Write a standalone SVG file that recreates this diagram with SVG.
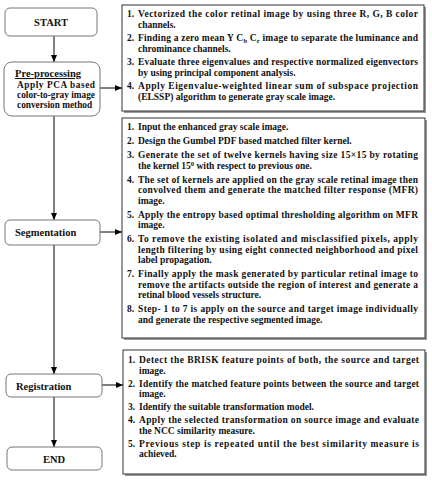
<svg xmlns="http://www.w3.org/2000/svg" width="432" height="480" viewBox="0 0 432 480">
<defs>
<marker id="ah" markerWidth="8" markerHeight="8" refX="7" refY="4" orient="auto" markerUnits="userSpaceOnUse">
<path d="M0,1 L7,4 L0,7 Z" fill="#000"/>
</marker>
</defs>
<style>
.node{fill:#fff;stroke:#777;stroke-width:1}
.box{fill:#fff;stroke:#333;stroke-width:1}
.sh{fill:#999}
.t{font-family:"Liberation Serif","Times New Roman",serif;font-weight:bold;fill:#111}
.lt{font-size:10.5px}
.bt{font-size:9.5px}
.pt{font-size:9.3px}
.c{stroke:#000;stroke-width:1;fill:none}
</style>
<rect width="432" height="480" fill="#fff"/>
<g id="connectors">
<line class="c" x1="54" y1="36" x2="54" y2="62" marker-end="url(#ah)"/>
<line class="c" x1="100" y1="88" x2="122" y2="88" marker-end="url(#ah)"/>
<line class="c" x1="54" y1="116" x2="54" y2="220" marker-end="url(#ah)"/>
<line class="c" x1="100" y1="232" x2="122" y2="232" marker-end="url(#ah)"/>
<line class="c" x1="54" y1="245" x2="54" y2="374" marker-end="url(#ah)"/>
<line class="c" x1="102" y1="385" x2="123" y2="385" marker-end="url(#ah)"/>
<line class="c" x1="54" y1="397" x2="54" y2="447" marker-end="url(#ah)"/>
</g>
<g id="start">
<rect class="node" x="5" y="8" width="92" height="28" rx="5"/>
<text class="t lt" x="51" y="26" text-anchor="middle">START</text>
</g>
<g id="preprocessing">
<rect class="node" x="4" y="62" width="96" height="54" rx="8"/>
<text class="t" x="15" y="77" font-size="10.5" text-decoration="underline">Pre-processing</text>
<text class="t pt" x="17" y="88" textLength="78" lengthAdjust="spacing">Apply PCA based</text>
<text class="t pt" x="17" y="98" textLength="78" lengthAdjust="spacing">color-to-gray image</text>
<text class="t pt" x="17" y="108">conversion method</text>
</g>
<g id="segmentation">
<rect class="node" x="5" y="220" width="95" height="25" rx="5"/>
<text class="t lt" x="15" y="236">Segmentation</text>
</g>
<g id="registration">
<rect class="node" x="6" y="374" width="96" height="23" rx="5"/>
<text class="t lt" x="16" y="390">Registration</text>
</g>
<g id="end">
<rect class="node" x="7" y="447" width="95" height="23" rx="5"/>
<text class="t lt" x="54" y="463" text-anchor="middle">END</text>
</g>
<g id="preprocessing-steps">
<rect class="sh" x="124" y="7" width="302" height="106"/>
<rect class="box" x="122" y="5" width="302" height="106"/>
<g class="t bt">
<text x="127" y="17">1.</text>
<text x="138" y="17" textLength="280" lengthAdjust="spacing">Vectorized the color retinal image by using three R, G, B color</text>
<text x="138" y="27.5">channels.</text>
<text x="127" y="41">2.</text>
<text x="138" y="41" textLength="280" lengthAdjust="spacing">Finding a zero mean Y C<tspan font-size="6.5" dy="2">b</tspan><tspan dy="-2"> C</tspan><tspan font-size="6.5" dy="2">r</tspan><tspan dy="-2"> image to separate the luminance and</tspan></text>
<text x="138" y="51.5">chrominance channels.</text>
<text x="127" y="65">3.</text>
<text x="138" y="65" textLength="280" lengthAdjust="spacing">Evaluate three eigenvalues and respective normalized eigenvectors</text>
<text x="138" y="75.5">by using principal component analysis.</text>
<text x="127" y="89">4.</text>
<text x="138" y="89" textLength="280" lengthAdjust="spacing">Apply Eigenvalue-weighted linear sum of subspace projection</text>
<text x="138" y="99.5">(ELSSP) algorithm to generate gray scale image.</text>
</g>
</g>
<g id="segmentation-steps">
<rect class="sh" x="124" y="120" width="303" height="220"/>
<rect class="box" x="122" y="118" width="303" height="220"/>
<g class="t bt">
<text x="127" y="130">1.</text>
<text x="138" y="130">Input the enhanced gray scale image.</text>
<text x="127" y="144">2.</text>
<text x="138" y="144">Design the Gumbel PDF based matched filter kernel.</text>
<text x="127" y="158">3.</text>
<text x="138" y="158" textLength="280" lengthAdjust="spacing">Generate the set of twelve kernels having size 15×15 by rotating</text>
<text x="138" y="168.5">the kernel 15<tspan font-size="6.5" dy="-3">0</tspan><tspan dy="3"> with respect to previous one.</tspan></text>
<text x="127" y="182.5">4.</text>
<text x="138" y="182.5" textLength="280" lengthAdjust="spacing">The set of kernels are applied on the gray scale retinal image then</text>
<text x="138" y="193" textLength="280" lengthAdjust="spacing">convolved them and generate the matched filter response (MFR)</text>
<text x="138" y="203.5">image.</text>
<text x="127" y="217.5">5.</text>
<text x="138" y="217.5" textLength="280" lengthAdjust="spacing">Apply the entropy based optimal thresholding algorithm on MFR</text>
<text x="138" y="228">image.</text>
<text x="127" y="242">6.</text>
<text x="138" y="242" textLength="280" lengthAdjust="spacing">To remove the existing isolated and misclassified pixels, apply</text>
<text x="138" y="252.5" textLength="280" lengthAdjust="spacing">length filtering by using eight connected neighborhood and pixel</text>
<text x="138" y="263">label propagation.</text>
<text x="127" y="277">7.</text>
<text x="138" y="277" textLength="280" lengthAdjust="spacing">Finally apply the mask generated by particular retinal image to</text>
<text x="138" y="287.5" textLength="280" lengthAdjust="spacing">remove the artifacts outside the region of interest and generate a</text>
<text x="138" y="298">retinal blood vessels structure.</text>
<text x="127" y="312">8.</text>
<text x="138" y="312" textLength="280" lengthAdjust="spacing">Step- 1 to 7 is apply on the source and target image individually</text>
<text x="138" y="322.5">and generate the respective segmented image.</text>
</g>
</g>
<g id="registration-steps">
<rect class="sh" x="125" y="352" width="302" height="124"/>
<rect class="box" x="123" y="350" width="302" height="124"/>
<g class="t bt">
<text x="128" y="363">1.</text>
<text x="139" y="363" textLength="280" lengthAdjust="spacing">Detect the BRISK feature points of both, the source and target</text>
<text x="139" y="373.5">image.</text>
<text x="128" y="386.5">2.</text>
<text x="139" y="386.5" textLength="280" lengthAdjust="spacing">Identify the matched feature points between the source and target</text>
<text x="139" y="397">image.</text>
<text x="128" y="410">3.</text>
<text x="139" y="410">Identify the suitable transformation model.</text>
<text x="128" y="423">4.</text>
<text x="139" y="423" textLength="280" lengthAdjust="spacing">Apply the selected transformation on source image and evaluate</text>
<text x="139" y="433.5">the NCC similarity measure.</text>
<text x="128" y="446.5">5.</text>
<text x="139" y="446.5" textLength="280" lengthAdjust="spacing">Previous step is repeated until the best similarity measure is</text>
<text x="139" y="457">achieved.</text>
</g>
</g>
</svg>
